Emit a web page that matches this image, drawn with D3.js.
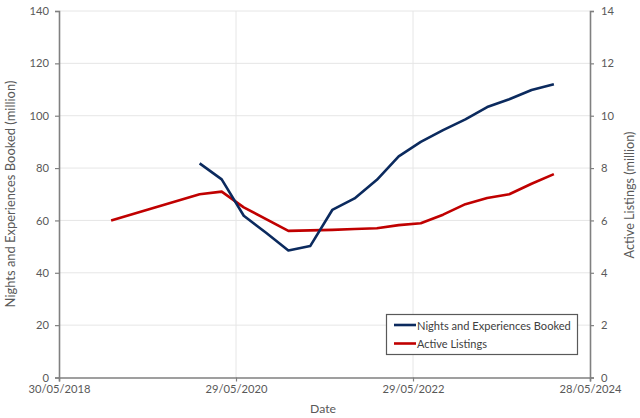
<!DOCTYPE html>
<html><head><meta charset="utf-8">
<script src="https://cdn.jsdelivr.net/npm/d3@7"></script>
<style>
body{margin:0;background:#fff;}
text{font-family:Lato,"Open Sans",sans-serif;}
</style></head>
<body><svg id="c" width="640" height="418"></svg>
<script>
const nightsDates = ["2019-12-31","2020-03-31","2020-06-30","2020-09-30","2020-12-31","2021-03-31","2021-06-30","2021-09-30","2021-12-31","2022-03-31","2022-06-30","2022-09-30","2022-12-31","2023-03-31","2023-06-30","2023-09-30","2023-12-31"];
const nightsValues = [81.8,75.7,61.8,55.3,48.5,50.2,64.0,68.4,75.5,84.5,90.0,94.5,98.6,103.3,106.3,109.8,112.0];
const listingDates = ["2018-12-31","2019-12-31","2020-03-31","2020-06-30","2020-12-31","2021-03-31","2021-06-30","2021-09-30","2021-12-31","2022-03-31","2022-06-30","2022-09-30","2022-12-31","2023-03-31","2023-06-30","2023-09-30","2023-12-31"];
const listingValues = [6.0,7.0,7.1,6.5,5.6,5.62,5.64,5.67,5.7,5.82,5.89,6.22,6.62,6.86,7.0,7.4,7.77];
const xTickDates = ["2018-05-30","2020-05-29","2022-05-29","2024-05-28"];
const xTickLabels = ["30/05/2018","29/05/2020","29/05/2022","28/05/2024"];
const leftTicks = [0,20,40,60,80,100,120,140];
const rightTicks = [0,2,4,6,8,10,12,14];
const seriesNames = ["Nights and Experiences Booked","Active Listings"];
const colors = ["#0b2a5e","#c00000"];

const p = d3.timeParse("%Y-%m-%d");
const svg = d3.select("#c");
const L=59,R=590,T=11,B=377.5;
const x = d3.scaleTime().domain([p(xTickDates[0]),p(xTickDates[3])]).range([L,R]);
const yL = d3.scaleLinear().domain([0,140]).range([B,T]);
const yR = d3.scaleLinear().domain([0,14]).range([B,T]);
const axisCol="#808080", txtCol="#595959";

function fit(sel, w){
  const base = 13;
  sel.attr("font-size", base);
  const len = sel.node().getComputedTextLength();
  sel.attr("font-size", base * w / len);
}

// gridlines
svg.append("g").selectAll("line").data(leftTicks.slice(1)).join("line")
  .attr("x1",L).attr("x2",R).attr("y1",d=>yL(d)).attr("y2",d=>yL(d))
  .attr("stroke","#e6e6e6").attr("stroke-width",1);
svg.append("g").selectAll("line").data(xTickDates.slice(1,3)).join("line")
  .attr("x1",d=>x(p(d))).attr("x2",d=>x(p(d))).attr("y1",T).attr("y2",B)
  .attr("stroke","#e6e6e6").attr("stroke-width",1);

// axes
const gl = svg.append("g").attr("transform",`translate(${L},0)`)
  .call(d3.axisLeft(yL).tickValues(leftTicks).tickSize(4).tickPadding(6));
const gr = svg.append("g").attr("transform",`translate(${R},0)`)
  .call(d3.axisRight(yR).tickValues(rightTicks).tickSize(4).tickPadding(7));
const gb = svg.append("g").attr("transform",`translate(0,${B})`)
  .call(d3.axisBottom(x).tickValues(xTickDates.map(p)).tickFormat((d,i)=>xTickLabels[i]).tickSize(4).tickPadding(4));
[gl,gr,gb].forEach(g=>{
  g.select(".domain").attr("stroke",axisCol).attr("stroke-width",1.6);
  g.selectAll(".tick line").attr("stroke",axisCol).attr("stroke-width",1.2);
  g.selectAll(".tick text").attr("fill",txtCol).attr("font-size",11.2)
   .style("font-family",'Lato,"Open Sans",sans-serif');
});

// lines
const lineL = d3.line().x(d=>x(d.d)).y(d=>yL(d.v));
const lineR = d3.line().x(d=>x(d.d)).y(d=>yR(d.v));
const nData = nightsDates.map((d,i)=>({d:p(d),v:nightsValues[i]}));
const lData = listingDates.map((d,i)=>({d:p(d),v:listingValues[i]}));
svg.append("path").datum(lData).attr("d",lineR).attr("fill","none")
  .attr("stroke",colors[1]).attr("stroke-width",2.6).attr("stroke-linejoin","round");
svg.append("path").datum(nData).attr("d",lineL).attr("fill","none")
  .attr("stroke",colors[0]).attr("stroke-width",2.6).attr("stroke-linejoin","round");

// axis titles
const t1 = svg.append("text").attr("transform","translate(15,194) rotate(-90)")
  .attr("text-anchor","middle").attr("fill",txtCol)
  .text("Nights and Experiences Booked (million)");
fit(t1, 227);
const t2 = svg.append("text").attr("transform","translate(634,195) rotate(-90)")
  .attr("text-anchor","middle").attr("fill",txtCol)
  .text("Active Listings (million)");
fit(t2, 127);
const t3 = svg.append("text").attr("x",323).attr("y",413).attr("text-anchor","middle")
  .attr("fill",txtCol).text("Date");
fit(t3, 26);

// legend
const lg = svg.append("g");
lg.append("rect").attr("x",386.5).attr("y",314.5).attr("width",191).attr("height",40)
  .attr("fill","#fff").attr("stroke","#595959").attr("stroke-width",1.2);
seriesNames.forEach((n,i)=>{
  const yy = 325 + i*18.5;
  lg.append("line").attr("x1",394).attr("x2",416).attr("y1",yy).attr("y2",yy)
    .attr("stroke",colors[i]).attr("stroke-width",2.6);
  const t = lg.append("text").attr("x",417).attr("y",yy+4.5).attr("fill","#404040").text(n);
  fit(t, i===0 ? 154 : 70);
});
</script></body></html>
